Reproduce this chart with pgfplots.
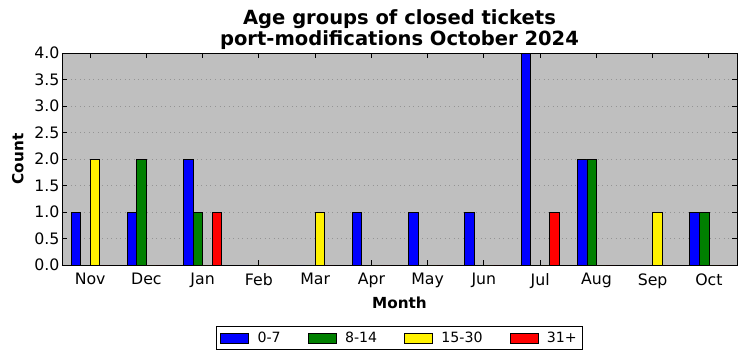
\documentclass[border=0pt]{standalone}
\usepackage{fontspec}
\setmainfont{DejaVu Sans}
\usepackage{pgfplots}
\pgfplotsset{compat=1.18}
\definecolor{bgGray}{gray}{0.75}
\definecolor{mGreen}{rgb}{0,0.5,0}
\pgfplotsset{
  mybar/.style={ybar, bar width=0.169, draw=black, line width=0.8bp,
    legend image code/.code={\draw[##1,line width=0.8bp] (0bp,-5bp) rectangle (28bp,5bp);}},
}
\begin{document}
\begin{tikzpicture}
\begin{axis}[
  at={(0bp,0bp)}, anchor=south west,
  width=675bp, height=212bp, scale only axis,
  xmin=-0.5, xmax=11.5, ymin=0, ymax=4,
  axis background/.style={fill=bgGray},
  axis line style={black, line width=0.9bp},
  xtick={0,1,2,3,4,5,6,7,8,9,10,11},
  xticklabels={Nov,Dec,Jan,Feb,Mar,Apr,May,Jun,Jul,Aug,Sep,Oct},
  ytick={0,0.5,1,1.5,2,2.5,3,3.5,4},
  yticklabel style={xshift=1bp, /pgf/number format/fixed, /pgf/number format/fixed zerofill, /pgf/number format/precision=1, /pgf/number format/assume math mode=true},
  tick align=inside, tick pos=both, major tick length=5bp,
  tick style={black, line width=0.8bp},
  ymajorgrids, grid style={black!42, line width=0.6bp, dash pattern=on 1bp off 3.5bp},
  ticklabel style={font=\fontsize{15.8}{18}\selectfont},
  xticklabel style={yshift=-5bp},
  title={Age groups of closed tickets\\port-modifications October 2024},
  title style={font=\bfseries\fontsize{19.6}{21.5}\selectfont, align=center, yshift=-6.5bp},
  xlabel={Month}, ylabel={Count},
  xlabel shift=1bp, ylabel shift=4bp,
  label style={font=\bfseries\fontsize{15.3}{18}\selectfont},
  legend style={at={(0.5,-0.288)}, anchor=north, legend columns=4, draw=black, line width=0.8bp,
    font=\fontsize{14.2}{16}\selectfont, inner xsep=4bp, inner ysep=3.5bp,
    /tikz/every odd column/.append style={column sep=6.5bp},
    /tikz/every even column/.append style={column sep=25bp}},
]
\addplot[mybar, bar shift=-0.253, fill=blue] coordinates {(0,1) (1,1) (2,2) (3,0) (4,0) (5,1) (6,1) (7,1) (8,4) (9,2) (10,0) (11,1)};
\addlegendentry{0-7}
\addplot[mybar, bar shift=-0.084, fill=mGreen] coordinates {(0,0) (1,2) (2,1) (3,0) (4,0) (5,0) (6,0) (7,0) (8,0) (9,2) (10,0) (11,1)};
\addlegendentry{8-14}
\addplot[mybar, bar shift=0.084, fill=yellow] coordinates {(0,2) (1,0) (2,0) (3,0) (4,1) (5,0) (6,0) (7,0) (8,0) (9,0) (10,1) (11,0)};
\addlegendentry{15-30}
\addplot[mybar, bar shift=0.253, fill=red] coordinates {(0,0) (1,0) (2,1) (3,0) (4,0) (5,0) (6,0) (7,0) (8,1) (9,0) (10,0) (11,0)};
\addlegendentry{31+}
\end{axis}
\pgfresetboundingbox
\path[use as bounding box] (-62bp,-96bp) rectangle (684bp,265bp);
\end{tikzpicture}
\end{document}
